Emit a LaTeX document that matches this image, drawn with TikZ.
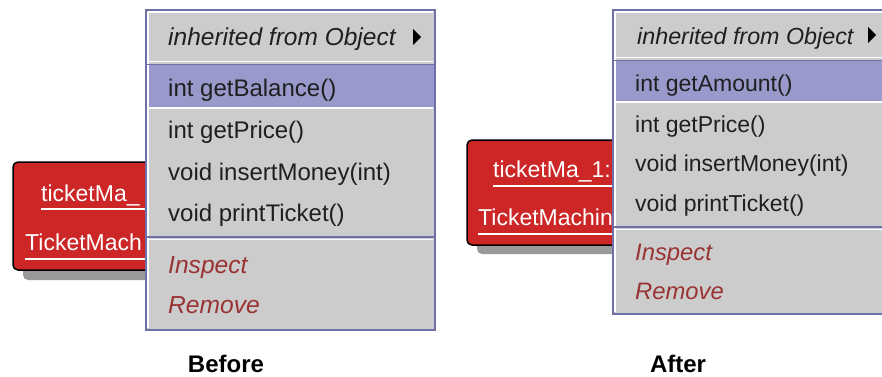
\documentclass[tikz,border=0pt]{standalone}
\usepackage{fontspec}
\setmainfont{Liberation Sans}
\definecolor{menugrey}{HTML}{CCCCCC}
\definecolor{menublue}{HTML}{9999CC}
\definecolor{menuedge}{HTML}{7070A8}
\definecolor{boxred}{HTML}{CC2626}
\definecolor{itemred}{HTML}{993333}
\definecolor{shadowgrey}{HTML}{9A9A9A}
\tikzset{
  item/.style={anchor=base west, inner sep=0pt, font=\fontsize{24}{24}\selectfont, text=black!88},
  heading/.style={anchor=base west, inner sep=0pt, font=\fontsize{24.5}{25}\selectfont\itshape, text=black!88},
  special/.style={anchor=base west, inner sep=0pt, font=\fontsize{24.6}{25}\selectfont\itshape, text=itemred},
  aitem/.style={item, font=\fontsize{23}{23}\selectfont},
  aheading/.style={heading, font=\fontsize{23.3}{23}\selectfont\itshape},
  aspecial/.style={special, font=\fontsize{23.8}{23}\selectfont\itshape},
  objtext/.style={anchor=base west, inner sep=0pt, font=\fontsize{23}{23}\selectfont, text=white},
  caption/.style={anchor=base, inner sep=0pt, font=\fontsize{24}{24}\selectfont\bfseries},
  edge/.style={draw=menuedge, line width=2pt},
  sepline/.style={draw=menuedge, line width=1.5pt},
  lightline/.style={draw=white, line width=1.2pt},
  uline/.style={draw=white, line width=1.8pt},
  redbox/.style={fill=boxred, draw=black, line width=1.5pt, rounded corners=5pt},
  shadowbox/.style={fill=shadowgrey, rounded corners=5pt},
  tri/.style={fill=black}
}
\begin{document}
\begin{tikzpicture}[x=1pt,y=-1pt]
\useasboundingbox (0,0) rectangle (882,376);
\fill[white] (0,0) rectangle (882,376);

% ===== BEFORE =====
\fill[shadowbox] (23,171) rectangle (210,280);
\draw[redbox] (13,162) rectangle (200,270);
\node[objtext] (bobj1) at (41,201) {ticketMa\_};
\node[objtext] (bobj2) at (25,250) {TicketMach};
\draw[uline] (41,209) -- (146,209);
\draw[uline] (25,259) -- (146,259);

\fill[menugrey] (146,10) rectangle (435,330);
\fill[menublue] (147,65) rectangle (434,107);
\draw[lightline] (148,12) -- (433,12);
\draw[lightline] (148,12) -- (148,328);
\draw[lightline] (148,61.5) -- (433,61.5);
\draw[sepline] (147,64.5) -- (434,64.5);
\draw[lightline] (148,108) -- (433,108);
\draw[sepline] (147,237) -- (434,237);
\draw[lightline] (148,239.5) -- (433,239.5);
\draw[edge] (146,10) rectangle (435,330);

\node[heading] (bhead) at (168,45) {inherited from Object};
\fill[tri] (413,29) -- (421,37) -- (413,45) -- cycle;
\node[item] (bm1) at (168,96) {int getBalance()};
\node[item] (bm2) at (168,138) {int getPrice()};
\node[item] (bm3) at (168,180) {void insertMoney(int)};
\node[item] (bm4) at (168,221) {void printTicket()};
\node[special] (bm5) at (168,273) {Inspect};
\node[special] (bm6) at (168,313) {Remove};

\node[caption] (before) at (226,372) {Before};

% ===== AFTER =====
\fill[shadowbox] (477,149) rectangle (660,254);
\draw[redbox] (467,140) rectangle (650,245);
\node[objtext] (aobj1) at (493,177) {ticketMa\_1:};
\node[objtext] (aobj2) at (478,225) {TicketMachin};
\draw[uline] (493,186) -- (613,186);
\draw[uline] (478,234) -- (613,234);

\fill[menugrey] (613,10) rectangle (882,314);
\fill[menublue] (614,61) rectangle (882,101);
\draw[lightline] (615,12) -- (882,12);
\draw[lightline] (615,12) -- (615,312);
\draw[lightline] (615,57.5) -- (882,57.5);
\draw[sepline] (614,60.5) -- (882,60.5);
\draw[lightline] (615,102) -- (882,102);
\draw[sepline] (614,227) -- (882,227);
\draw[lightline] (615,229.5) -- (882,229.5);
\draw[edge] (882,10) -- (613,10) -- (613,314) -- (882,314);

\node[aheading] (ahead) at (637,44) {inherited from Object};
\fill[tri] (868,27) -- (876,35) -- (868,43) -- cycle;
\node[aitem] (am1) at (635,91) {int getAmount()};
\node[aitem] (am2) at (635,132) {int getPrice()};
\node[aitem] (am3) at (635,171) {void insertMoney(int)};
\node[aitem] (am4) at (635,211) {void printTicket()};
\node[aspecial] (am5) at (635,260) {Inspect};
\node[aspecial] (am6) at (635,299) {Remove};

\node[caption] (after) at (678,372) {After};
\end{tikzpicture}
\end{document}
